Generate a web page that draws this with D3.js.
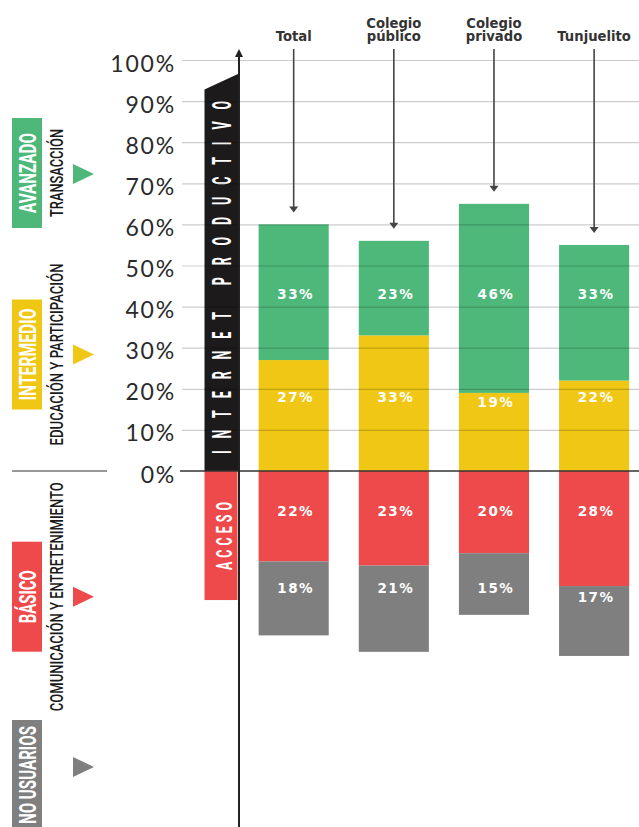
<!DOCTYPE html>
<html><head><meta charset="utf-8">
<script src="https://cdn.jsdelivr.net/npm/d3@7"></script>
<style>html,body{margin:0;padding:0;background:#fff;} svg{display:block;}</style>
</head><body>
<script>
// ---- data ----
const categories = ["Total", "Colegio público", "Colegio privado", "Tunjuelito"];
const categoryLines = [["Total"], ["Colegio", "público"], ["Colegio", "privado"], ["Tunjuelito"]];
const avanzado = [33, 23, 46, 33];
const intermedio = [27, 33, 19, 22];
const basico = [22, 23, 20, 28];
const noUsuarios = [18, 21, 15, 17];
const yTicks = [0, 10, 20, 30, 40, 50, 60, 70, 80, 90, 100];
const levelNames = ["AVANZADO", "INTERMEDIO", "BÁSICO", "NO USUARIOS"];
const levelSubtitles = ["TRANSACCIÓN", "EDUCACIÓN Y PARTICIPACIÓN", "COMUNICACIÓN Y ENTRETENIMIENTO", ""];
const bandTitles = ["INTERNET PRODUCTIVO", "ACCESO"];

// ---- setup ----
const W = 639, H = 827;
const colors = {avanzado: "#4db87a", intermedio: "#f0c715", basico: "#ee4a4b", noUsuarios: "#7f7f7f"};
const svg = d3.select("body").append("svg").attr("width", W).attr("height", H);

const y = d3.scaleLinear().domain([0, 100]).range([471, 60]);
const x = d3.scaleBand().domain(categories).range([243.6, 644.2]).paddingInner(0.3).paddingOuter(0.15);

const rows = categories.map((c, i) => ({cat: c, intermedio: intermedio[i], avanzado: avanzado[i], basico: -basico[i], noUsuarios: -noUsuarios[i]}));
const keys = ["intermedio", "avanzado", "basico", "noUsuarios"];
const series = d3.stack().keys(keys).offset(d3.stackOffsetDiverging)(rows);

// ---- black band "INTERNET PRODUCTIVO" ----
const bx0 = 204.5, bx1 = 239;
svg.append("path")
  .attr("d", `M${bx0},${y(0)} L${bx0},${y(92.8)} L${bx1},${y(96.7)} L${bx1},${y(0)} Z`)
  .attr("fill", "#1c1a1b");
// red band "ACCESO"
svg.append("rect").attr("x", bx0).attr("y", y(0)).attr("width", 33).attr("height", y(-31.4) - y(0)).attr("fill", colors.basico);

function condensedText(g, txt, bx, cy, len, size, weight, fill, sx) {
  const t = g.append("g").attr("transform", `translate(${bx},${cy}) rotate(-90) scale(${sx},1)`);
  t.append("text").text(txt)
    .attr("text-anchor", "middle")
    .attr("font-family", "Roboto, sans-serif")
    .attr("font-size", size).attr("font-weight", weight)
    .attr("fill", fill)
    .attr("textLength", len / sx).attr("lengthAdjust", "spacing");
}
condensedText(svg, bandTitles[0], 230.5, 277.5, 353, 25, 700, "#fff", 0.5);
condensedText(svg, bandTitles[1], 232, 536, 68, 22.5, 700, "#fff", 0.55);

// ---- bars ----
const gBars = svg.append("g");
series.forEach(s => {
  gBars.selectAll(null).data(s).join("rect")
    .attr("x", d => x(d.data.cat))
    .attr("width", x.bandwidth())
    .attr("y", d => y(Math.max(d[0], d[1])))
    .attr("height", d => Math.abs(y(d[0]) - y(d[1])))
    .attr("fill", colors[s.key]);
});

// ---- gridlines ----
const grid = svg.append("g").attr("transform", "translate(182,0)")
  .call(d3.axisRight(y).tickValues(yTicks.filter(v => v > 0)).tickSize(W - 182).tickFormat(""));
grid.select(".domain").remove();
grid.selectAll("line").attr("stroke", "#000").attr("stroke-opacity", 0.2).attr("stroke-width", 1.2);

// zero line
svg.append("line").attr("x1", 180).attr("x2", W).attr("y1", y(0)).attr("y2", y(0)).attr("stroke", "#333").attr("stroke-width", 1.4);
svg.append("line").attr("x1", 12).attr("x2", 107).attr("y1", y(0)).attr("y2", y(0)).attr("stroke", "#333").attr("stroke-width", 1.2);

// ---- tick labels ----
const yAxis = svg.append("g").attr("transform", "translate(176,0)")
  .call(d3.axisLeft(y).tickValues(yTicks).tickSize(0).tickPadding(0).tickFormat(d => d + "%"));
yAxis.select(".domain").remove();
yAxis.selectAll("text")
  .attr("font-family", "Lato, sans-serif").attr("font-weight", 400)
  .attr("font-size", 23).attr("letter-spacing", 1.8)
  .attr("fill", "#2a2a2a").attr("dy", "0.48em");

// ---- vertical axis with arrow ----
svg.append("line").attr("x1", bx1).attr("x2", bx1).attr("y1", 52).attr("y2", H).attr("stroke", "#222").attr("stroke-width", 2);
svg.append("path").attr("d", `M${bx1 - 4},57 L${bx1 + 4},57 L${bx1},49 Z`).attr("fill", "#222");

// ---- bar labels ----
const labelCenter = {
  avanzado: d => y(43),
  intermedio: d => Math.max(y(18), y(d[1]) + 9),
  basico: d => y(-9.8),
  noUsuarios: d => Math.max(y(-28.5), y(d[1]) + 11)
};
series.forEach(s => {
  svg.selectAll(null).data(s).join("text")
    .attr("x", d => x(d.data.cat) + x.bandwidth() / 2 + 2)
    .attr("y", d => labelCenter[s.key](d) + 5)
    .attr("text-anchor", "middle")
    .attr("font-family", "DejaVu Sans, sans-serif").attr("font-weight", "bold")
    .attr("font-size", 13.5).attr("letter-spacing", 1.5)
    .attr("fill", "#fff")
    .text(d => Math.round(Math.abs(d[1] - d[0])) + "%");
});

// ---- category headers and arrows ----
const tops = series[1].map(d => d[1]);
categories.forEach((c, i) => {
  const cx = x(c) + x.bandwidth() / 2;
  const lines = categoryLines[i];
  lines.forEach((ln, j) => {
    svg.append("text").text(ln)
      .attr("x", cx).attr("y", 41 - (lines.length - 1 - j) * 13.5)
      .attr("text-anchor", "middle")
      .attr("font-family", "DejaVu Sans, sans-serif").attr("font-weight", "bold")
      .attr("font-size", 13.2).attr("fill", "#333");
  });
  const tip = y(tops[i]) - 12;
  svg.append("line").attr("x1", cx).attr("x2", cx).attr("y1", 49).attr("y2", tip - 4)
    .attr("stroke", "#444").attr("stroke-width", 1.6);
  svg.append("path").attr("d", `M${cx - 4.5},${tip - 6} L${cx + 4.5},${tip - 6} L${cx},${tip} Z`).attr("fill", "#444");
});

// ---- left legend ----
const legendCenters = [173, 354.5, 596.7, 775];
const legendTri = [174, 354.5, 596.7, 767];
const nameLens = [80, 92, 53, 98];
const subLens = [88, 182, 229, 0];
const lcolors = [colors.avanzado, colors.intermedio, colors.basico, colors.noUsuarios];
levelNames.forEach((n, i) => {
  const cy = legendCenters[i];
  svg.append("rect").attr("x", 12).attr("width", 30).attr("y", cy - 55).attr("height", 110).attr("fill", lcolors[i]);
  const g1 = svg.append("g").attr("transform", `translate(36,${cy}) rotate(-90)`);
  g1.append("text").text(n).attr("text-anchor", "middle")
    .attr("font-family", "Roboto, sans-serif").attr("font-weight", 700).attr("font-size", 23.5)
    .attr("fill", "#fff").attr("textLength", nameLens[i]).attr("lengthAdjust", "spacingAndGlyphs");
  if (levelSubtitles[i]) {
    const g2 = svg.append("g").attr("transform", `translate(63,${cy}) rotate(-90)`);
    g2.append("text").text(levelSubtitles[i]).attr("text-anchor", "middle")
      .attr("font-family", "Roboto, sans-serif").attr("font-weight", 500).attr("font-size", 19)
      .attr("fill", "#1a1a1a").attr("textLength", subLens[i]).attr("lengthAdjust", "spacingAndGlyphs");
  }
  const ty = legendTri[i];
  svg.append("path").attr("d", `M73,${ty - 10} L73,${ty + 10} L94,${ty} Z`).attr("fill", lcolors[i]);
});
</script>
</body></html>
